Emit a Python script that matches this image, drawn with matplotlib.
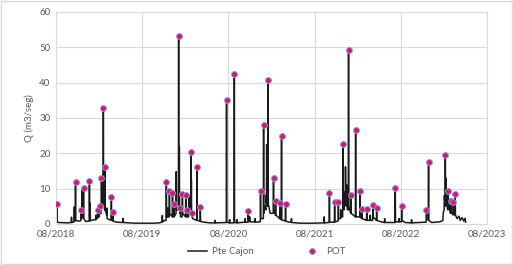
import matplotlib
matplotlib.use("Agg")
import matplotlib.pyplot as plt
import matplotlib.dates as mdates
import pandas as pd
from matplotlib.patches import Rectangle

# POT peaks
pot_dates = [
    "2018-08-05", "2018-10-23", "2018-11-15", "2018-11-26", "2018-12-21",
    "2019-01-25", "2019-02-02", "2019-02-10", "2019-02-18", "2019-02-25",
    "2019-03-24", "2019-03-30",
    "2019-11-12", "2019-11-25", "2019-12-08", "2019-12-14", "2020-01-03",
    "2020-01-10", "2020-01-19", "2020-02-02", "2020-02-07", "2020-02-24",
    "2020-03-01", "2020-03-21", "2020-04-04", "2020-07-24", "2020-08-26",
    "2020-10-24", "2020-12-15", "2020-12-28", "2021-01-15", "2021-02-08",
    "2021-02-17", "2021-03-07", "2021-03-14", "2021-03-31",
    "2021-10-03", "2021-10-25", "2021-11-10", "2021-11-29", "2021-12-23",
    "2022-01-02", "2022-01-22", "2022-02-10", "2022-02-18", "2022-03-10",
    "2022-04-05", "2022-04-21", "2022-07-09", "2022-08-05", "2022-11-18",
    "2022-11-27", "2023-02-06", "2023-02-17", "2023-03-01", "2023-03-12",
    "2023-03-20",
]
pot_q = [
    5.6, 12.0, 3.9, 10.3, 12.2,
    4.0, 5.2, 13.1, 32.8, 16.1,
    7.5, 3.3,
    12.0, 9.3, 8.7, 5.5, 53.1,
    4.6, 8.6, 8.2, 3.8, 20.3,
    3.1, 16.0, 4.7, 35.1, 42.5,
    3.6, 9.3, 27.9, 40.6, 13.0,
    6.6, 6.0, 24.9, 5.7,
    8.8, 6.3, 6.3, 22.7, 49.1,
    8.2, 26.7, 9.3, 4.3, 4.2,
    5.3, 4.6, 10.3, 5.2, 4.0,
    17.6, 19.5, 9.4, 6.6, 6.3,
    8.5,
]

# daily flow at Pte Cajon, key points
flow_dates = [
    "2018-08-01", "2018-08-04", "2018-08-05", "2018-08-06", "2018-08-10",
    "2018-09-20", "2018-10-05", "2018-10-06", "2018-10-07", "2018-10-17",
    "2018-10-18", "2018-10-19", "2018-10-22", "2018-10-23", "2018-10-24",
    "2018-11-05", "2018-11-14", "2018-11-15", "2018-11-16", "2018-11-19",
    "2018-11-20", "2018-11-21", "2018-11-25", "2018-11-26", "2018-11-27",
    "2018-12-05", "2018-12-20", "2018-12-21", "2018-12-22", "2018-12-23",
    "2018-12-24", "2018-12-25", "2019-01-10", "2019-01-17", "2019-01-18",
    "2019-01-19", "2019-01-24", "2019-01-25", "2019-01-26", "2019-02-01",
    "2019-02-02", "2019-02-03", "2019-02-09", "2019-02-10", "2019-02-11",
    "2019-02-12", "2019-02-13", "2019-02-15", "2019-02-16", "2019-02-17",
    "2019-02-18", "2019-02-19", "2019-02-20", "2019-02-22", "2019-02-23",
    "2019-02-24", "2019-02-25", "2019-02-26", "2019-03-04", "2019-03-05",
    "2019-03-06", "2019-03-23", "2019-03-24", "2019-03-25", "2019-03-29",
    "2019-03-30", "2019-03-31", "2019-04-15", "2019-05-12", "2019-05-13",
    "2019-05-14", "2019-07-01", "2019-09-20", "2019-10-15", "2019-10-25",
    "2019-10-26", "2019-10-27", "2019-11-05", "2019-11-11", "2019-11-12",
    "2019-11-13", "2019-11-17", "2019-11-18", "2019-11-19", "2019-11-24",
    "2019-11-25", "2019-11-26", "2019-12-07", "2019-12-08", "2019-12-09",
    "2019-12-13", "2019-12-14", "2019-12-15", "2019-12-23", "2019-12-24",
    "2019-12-25", "2020-01-02", "2020-01-03", "2020-01-04", "2020-01-05",
    "2020-01-06", "2020-01-07", "2020-01-09", "2020-01-10", "2020-01-11",
    "2020-01-18", "2020-01-19", "2020-01-20", "2020-02-01", "2020-02-02",
    "2020-02-03", "2020-02-06", "2020-02-07", "2020-02-08", "2020-02-14",
    "2020-02-15", "2020-02-16", "2020-02-23", "2020-02-24", "2020-02-25",
    "2020-02-26", "2020-02-27", "2020-02-29", "2020-03-01", "2020-03-02",
    "2020-03-20", "2020-03-21", "2020-03-22", "2020-04-03", "2020-04-04",
    "2020-04-05", "2020-04-20", "2020-05-15", "2020-06-05", "2020-06-06",
    "2020-06-07", "2020-07-23", "2020-07-24", "2020-07-25", "2020-08-05",
    "2020-08-06", "2020-08-07", "2020-08-25", "2020-08-26", "2020-08-27",
    "2020-09-05", "2020-09-06", "2020-09-07", "2020-10-10", "2020-10-11",
    "2020-10-12", "2020-10-23", "2020-10-24", "2020-10-25", "2020-10-29",
    "2020-10-30", "2020-10-31", "2020-11-21", "2020-11-22", "2020-11-23",
    "2020-12-14", "2020-12-15", "2020-12-16", "2020-12-27", "2020-12-28",
    "2020-12-29", "2021-01-02", "2021-01-07", "2021-01-08", "2021-01-09",
    "2021-01-10", "2021-01-11", "2021-01-14", "2021-01-15", "2021-01-16",
    "2021-01-25", "2021-02-07", "2021-02-08", "2021-02-09", "2021-02-16",
    "2021-02-17", "2021-02-18", "2021-03-06", "2021-03-07", "2021-03-08",
    "2021-03-13", "2021-03-14", "2021-03-15", "2021-03-30", "2021-03-31",
    "2021-04-01", "2021-04-15", "2021-04-24", "2021-04-25", "2021-04-26",
    "2021-06-01", "2021-07-25", "2021-09-10", "2021-09-11", "2021-09-12",
    "2021-10-02", "2021-10-03", "2021-10-04", "2021-10-24", "2021-10-25",
    "2021-10-26", "2021-11-09", "2021-11-10", "2021-11-11", "2021-11-19",
    "2021-11-20", "2021-11-21", "2021-11-28", "2021-11-29", "2021-11-30",
    "2021-12-04", "2021-12-05", "2021-12-06", "2021-12-09", "2021-12-10",
    "2021-12-12", "2021-12-15", "2021-12-16", "2021-12-18", "2021-12-22",
    "2021-12-23", "2021-12-24", "2022-01-01", "2022-01-02", "2022-01-03",
    "2022-01-21", "2022-01-22", "2022-01-23", "2022-02-09", "2022-02-10",
    "2022-02-11", "2022-02-17", "2022-02-18", "2022-02-19", "2022-03-09",
    "2022-03-10", "2022-03-11", "2022-03-24", "2022-03-25", "2022-03-26",
    "2022-04-04", "2022-04-05", "2022-04-06", "2022-04-20", "2022-04-21",
    "2022-04-22", "2022-05-10", "2022-05-24", "2022-05-25", "2022-05-26",
    "2022-07-08", "2022-07-09", "2022-07-10", "2022-07-24", "2022-07-25",
    "2022-07-26", "2022-08-04", "2022-08-05", "2022-08-06", "2022-08-20",
    "2022-09-15", "2022-09-16", "2022-09-17", "2022-11-17", "2022-11-18",
    "2022-11-19", "2022-11-26", "2022-11-27", "2022-11-28", "2022-12-10",
    "2023-01-15", "2023-01-27", "2023-01-28", "2023-02-01", "2023-02-02",
    "2023-02-05", "2023-02-06", "2023-02-07", "2023-02-08", "2023-02-09",
    "2023-02-11", "2023-02-16", "2023-02-17", "2023-02-18", "2023-02-22",
    "2023-02-23", "2023-02-25", "2023-02-28", "2023-03-01", "2023-03-02",
    "2023-03-11", "2023-03-12", "2023-03-13", "2023-03-19", "2023-03-20",
    "2023-03-21", "2023-03-28", "2023-04-05", "2023-04-10", "2023-04-18",
    "2023-04-25", "2023-05-01", "2023-05-03",
]
flow_q = [
    0.5, 0.8, 5.6, 0.8, 0.4,
    0.3, 0.4, 1.9, 0.4, 0.6,
    4.8, 0.8, 0.9, 12.0, 1.0,
    0.8, 0.9, 3.9, 1.5, 1.5,
    9.5, 2.0, 2.0, 10.3, 1.5,
    0.7, 0.8, 12.2, 2.0, 2.0,
    5.9, 0.9, 1.2, 1.2, 2.5,
    1.5, 1.5, 4.0, 2.0, 2.0,
    5.2, 3.0, 3.0, 13.1, 5.0,
    9.0, 5.0, 5.0, 13.8, 8.0,
    32.8, 12.0, 5.0, 8.0, 4.0,
    4.0, 16.1, 4.0, 2.5, 4.5,
    1.5, 1.0, 7.5, 1.5, 1.0,
    3.3, 0.8, 0.5, 0.4, 1.6,
    0.4, 0.2, 0.2, 0.3, 0.6,
    2.4, 0.6, 1.0, 1.0, 12.0,
    2.0, 2.0, 4.5, 2.0, 2.0,
    9.3, 3.0, 2.0, 8.7, 3.0,
    2.0, 5.5, 2.0, 3.0, 14.8,
    4.0, 4.0, 53.1, 6.0, 5.0,
    21.7, 4.0, 3.0, 4.6, 2.0,
    2.0, 8.6, 3.0, 2.0, 8.2,
    3.0, 2.0, 3.8, 2.0, 2.0,
    7.9, 3.0, 3.0, 20.3, 5.0,
    12.3, 3.0, 2.0, 3.1, 1.5,
    1.0, 16.0, 1.0, 0.8, 4.7,
    0.7, 0.5, 0.3, 0.3, 1.0,
    0.3, 0.4, 35.1, 0.5, 0.3,
    1.2, 0.3, 0.3, 42.5, 0.5,
    0.3, 1.2, 0.3, 0.5, 1.5,
    0.5, 0.5, 3.6, 1.0, 0.8,
    2.0, 0.6, 0.6, 1.5, 0.5,
    0.6, 9.3, 1.5, 1.5, 27.9,
    3.0, 5.0, 4.0, 8.0, 6.0,
    22.4, 8.0, 5.0, 40.6, 6.0,
    3.0, 3.0, 13.0, 4.0, 2.5,
    6.6, 2.5, 1.5, 6.0, 1.5,
    1.2, 24.9, 1.2, 0.8, 5.7,
    0.8, 0.5, 0.5, 1.5, 0.4,
    0.2, 0.2, 0.3, 2.0, 0.3,
    0.4, 8.8, 0.5, 0.5, 6.3,
    0.6, 0.8, 6.3, 1.5, 1.5,
    4.0, 2.0, 2.0, 22.7, 5.0,
    4.0, 9.0, 5.0, 6.0, 16.2,
    6.0, 5.0, 11.0, 4.0, 4.0,
    49.1, 5.0, 3.0, 8.2, 3.0,
    2.0, 26.7, 2.0, 2.0, 9.3,
    2.0, 1.5, 4.3, 1.5, 1.0,
    4.2, 1.0, 1.0, 2.5, 1.0,
    1.0, 5.3, 2.0, 1.0, 4.6,
    1.0, 0.6, 0.4, 1.5, 0.4,
    0.4, 10.3, 0.6, 0.6, 1.5,
    0.6, 0.6, 5.2, 1.0, 0.4,
    0.3, 1.2, 0.3, 0.5, 4.0,
    2.0, 1.0, 17.6, 1.0, 0.4,
    0.6, 1.0, 3.0, 4.0, 8.0,
    5.0, 19.5, 9.0, 6.0, 13.0,
    6.0, 4.0, 9.4, 5.0, 4.0,
    7.0, 4.0, 3.0, 6.6, 3.5,
    2.5, 6.3, 3.0, 2.5, 8.5,
    2.5, 1.5, 2.2, 1.0, 1.8,
    0.8, 1.6, 0.5,
]

year_ticks = ["2018-08-01", "2019-08-01", "2020-08-01", "2021-08-01",
              "2022-08-01", "2023-08-01"]

plt.rcParams['font.family'] = ['Lato', 'DejaVu Sans']
txt = '#595959'
grid_c = '#D9D9D9'

fig = plt.figure(figsize=(5.13, 2.65), dpi=100)
ax = fig.add_axes([0.109, 0.155, 0.84, 0.80])

ax.plot(pd.to_datetime(flow_dates), flow_q, color='#1a1a1a', lw=1.1,
        label='Pte Cajon', zorder=2)
ax.plot(pd.to_datetime(pot_dates), pot_q, ls='none', marker='o', ms=4.2,
        mfc='#F0086A', mec='#6FA8DC', mew=0.7, label='POT', zorder=3)

ax.set_xlim(pd.Timestamp(year_ticks[0]), pd.Timestamp(year_ticks[-1]))
ax.set_ylim(0, 60)
ax.set_yticks(range(0, 61, 10))
ax.set_xticks(pd.to_datetime(year_ticks))
ax.xaxis.set_major_formatter(mdates.DateFormatter('%m/%Y'))
ax.grid(True, color=grid_c, lw=0.8)
ax.set_axisbelow(True)
for s in ax.spines.values():
    s.set_color(grid_c)
    s.set_linewidth(0.8)
ax.tick_params(length=0, labelsize=7, colors=txt, pad=4)
ax.set_ylabel('Q (m3/seg)', fontsize=7, color=txt, labelpad=4)

fig.legend(loc='lower center', bbox_to_anchor=(0.52, 0.0), ncol=2,
           frameon=False, fontsize=7, labelcolor=txt, columnspacing=5,
           handlelength=2.0, handletextpad=0.5)

fig.patches.append(Rectangle((0.002, 0.004), 0.996, 0.992, transform=fig.transFigure,
                             fill=False, edgecolor=grid_c, lw=1))

fig.savefig('out.png', dpi=100)
